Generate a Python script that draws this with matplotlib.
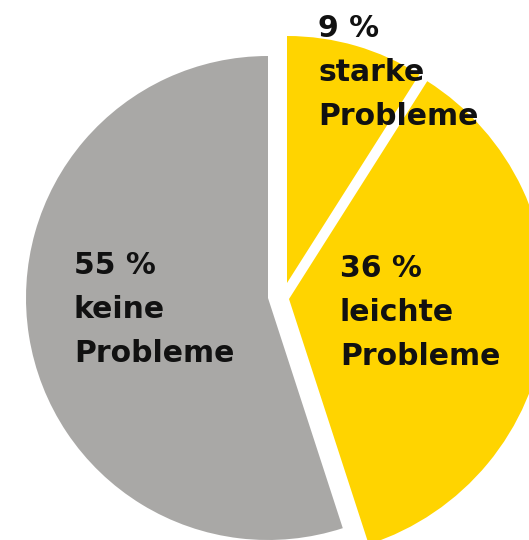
import matplotlib.pyplot as plt

# Survey shares (percent), clockwise from the top
shares = [9, 36, 55]
labels = ["starke\nProbleme", "leichte\nProbleme", "keine\nProbleme"]
colors = ["#FFD400", "#FFD400", "#A9A8A6"]

W, H = 529, 540

# Wedge placement in pixel units (y measured from the top)
base_center = (268, 298)
base_radius = 242
wedge_centers = [(287, 283), (289, 299), (268, 298)]
wedge_radii = [247, 258, 242]
label_pos = [(318, 14), (340, 254), (74, 251)]


def flip(p):
    return p[0], H - p[1]


fig = plt.figure(figsize=(W / 100, H / 100), dpi=100)
ax = fig.add_axes([0, 0, 1, 1])

wedges, _ = ax.pie(shares, colors=colors, startangle=90, counterclock=False,
                   center=flip(base_center), radius=base_radius,
                   wedgeprops=dict(linewidth=0))

# Pull the two yellow slices out of the pie
for w, c, r in zip(wedges, wedge_centers, wedge_radii):
    w.set_center(flip(c))
    w.set_radius(r)

for share, lab, pos in zip(shares, labels, label_pos):
    x, y = flip(pos)
    ax.text(x, y, f"{share} %\n{lab}", ha="left", va="top", fontsize=21.5,
            family="DejaVu Sans", fontweight="bold", color="#111111", linespacing=1.65)

ax.set_xlim(0, W)
ax.set_ylim(0, H)
ax.set_aspect("equal")
ax.axis("off")

fig.savefig("out.png", dpi=100)
